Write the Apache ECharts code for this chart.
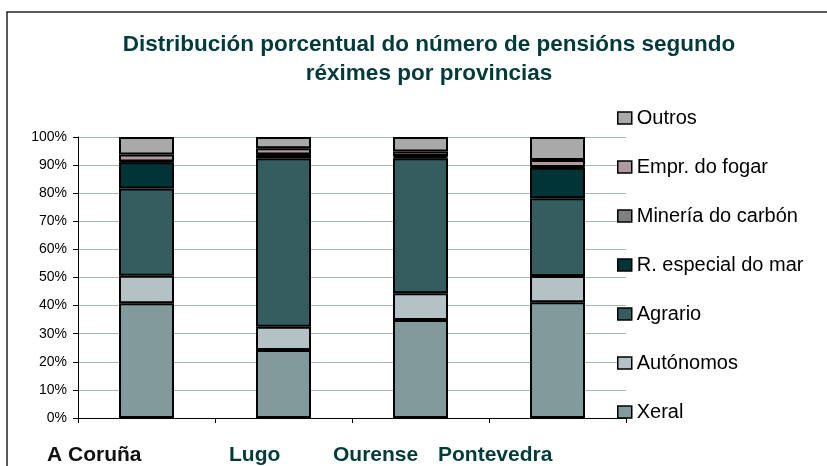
<!DOCTYPE html>
<html>
<head>
<meta charset="utf-8">
<script src="https://cdn.jsdelivr.net/npm/echarts@6/dist/echarts.min.js"></script>
<style>
  html, body { margin: 0; padding: 0; background: #fff; }
  #chart { width: 827px; height: 466px; }
</style>
</head>
<body>
<div id="chart"></div>
<script>
const provincias = ['A Coruña', 'Lugo', 'Ourense', 'Pontevedra']
const reximes = ['Xeral', 'Autónomos', 'Agrario', 'R. especial do mar', 'Minería do carbón', 'Empr. do fogar', 'Outros']
// % por réxime, en orde de provincias
const xeral = [40.8, 24.2, 34.9, 41.2]
const autonomos = [9.8, 8.3, 9.5, 9.3]
const agrario = [31.1, 59.9, 48.0, 27.7]
const mar = [9.3, 1.2, 0.6, 10.9]
const mineria = [0.3, 0.2, 0.2, 0.2]
const fogar = [2.5, 2.2, 1.6, 2.5]
const outros = [6.2, 4.0, 5.2, 8.2]
const valores = [xeral, autonomos, agrario, mar, mineria, fogar, outros]
const cores = ['#819b9c', '#b4c2c5', '#355d60', '#003436', '#808080', '#ae9aa0', '#a9a9a9']

// etiquetas das provincias (colocadas á man como no orixinal)
const etiquetaX = [47, 229, 333, 438]
const etiquetaCor = ['#111111', '#003a3a', '#003a3a', '#003a3a']

const chart = echarts.init(document.getElementById('chart'))

const series = reximes.map((nome, i) => ({
  name: nome,
  type: 'bar',
  stack: 'total',
  data: valores[i],
  barWidth: 55,
  itemStyle: {
    color: cores[i],
    borderColor: '#000',
    borderWidth: 2,
  },
  emphasis: { disabled: true },
}))

chart.setOption({
  animation: false,
  title: {
    text: 'Distribución porcentual do número de pensións segundo\nréximes por provincias',
    left: 424,
    textAlign: 'center',
    top: 25,
    textStyle: {
      fontFamily: 'Liberation Sans',
      fontSize: 22.5,
      fontWeight: 'bold',
      color: '#003a3a',
      lineHeight: 29,
    },
  },
  legend: {
    data: reximes.slice().reverse(),
    orient: 'vertical',
    left: 617,
    top: 108,
    padding: 0,
    icon: 'rect',
    itemWidth: 14,
    itemHeight: 12,
    itemGap: 29,
    itemStyle: { borderColor: '#000', borderWidth: 1.5 },
    textStyle: {
      fontFamily: 'Liberation Sans',
      fontSize: 20,
      color: '#000',
      lineHeight: 20,
    },
  },
  grid: {
    left: 78,
    top: 137,
    right: 201,
    bottom: 48,
    containLabel: false,
  },
  xAxis: {
    type: 'category',
    data: provincias,
    axisLine: { lineStyle: { color: '#000', width: 1 } },
    axisTick: { show: true, length: 5, lineStyle: { color: '#000' } },
    axisLabel: { show: false },
  },
  yAxis: {
    type: 'value',
    min: 0,
    max: 100,
    interval: 10,
    axisLine: { show: true, lineStyle: { color: '#000', width: 1 } },
    axisTick: { show: true, length: 5, lineStyle: { color: '#000' } },
    axisLabel: {
      formatter: '{value}%',
      fontFamily: 'Liberation Sans',
      fontSize: 14,
      color: '#000',
      margin: 11,
    },
    splitLine: { lineStyle: { color: '#a9b6b6', width: 1 } },
  },
  series: series,
  graphic: [
    {
      type: 'rect',
      shape: { x: 7, y: 12, width: 900, height: 500 },
      style: { fill: 'none', stroke: '#222', lineWidth: 1.5 },
      silent: true,
    },
  ].concat(provincias.map((p, i) => ({
    type: 'text',
    left: etiquetaX[i],
    top: 445,
    style: {
      text: p,
      fontFamily: 'Liberation Sans',
      fontSize: 21,
      fontWeight: 'bold',
      fill: etiquetaCor[i],
    },
  }))),
})
</script>
</body>
</html>
